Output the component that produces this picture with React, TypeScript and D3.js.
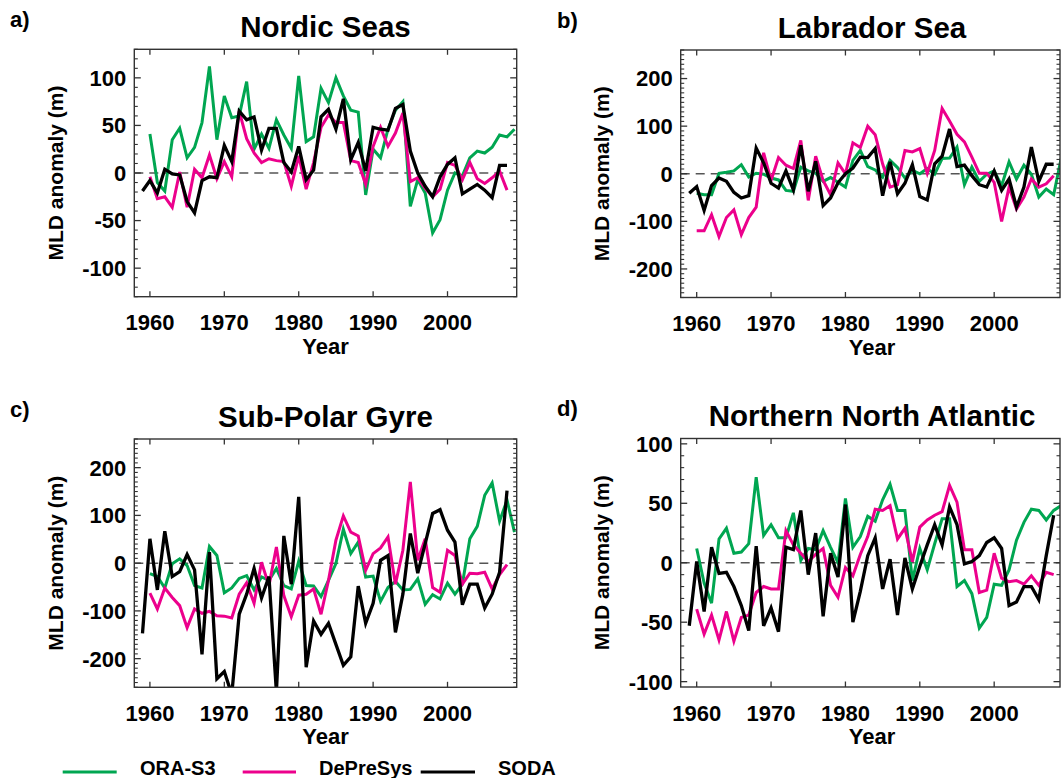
import { line, range, scaleLinear } from "d3";

// years on the x axis
const X_TICKS = [1960, 1970, 1980, 1990, 2000];
const SERIES_NAMES = ["ORA-S3", "DePreSys", "SODA"];
const START_YEARS = [1960, 1960, 1959];

// a) Nordic Seas
const nordicOra = [41, -10, -19, 35, 47, 16, 27, 53, 112, 35, 81, 58, 60, 96, 25, 41, 26, 56, 40, 26, 102, 33, 38, 89, 74, 100, 81, 66, 64, -23, 25, 16, 46, 66, 75, -35, -7, -21, -63, -49, -18, 0, -3, 16, 23, 21, 27, 40, 38, 46];
const nordicDePreSys = [-4, -27, -25, -36, 1, -36, 4, -5, 19, -6, 12, -4, 65, 36, 21, 11, 15, 13, 12, -14, 18, -17, 11, 48, 61, 53, 53, 13, 11, -12, 28, 48, 28, 42, 63, -9, -5, -16, -25, -17, 11, 8, -7, 11, -6, -11, -5, 2, -18];
const nordicSoda = [-19, -8, -21, 4, -1, -2, -30, -42, -8, -4, -5, 29, 12, 65, 56, 59, 24, 47, 47, 11, 1, 28, -7, 3, 59, 67, 46, 78, 14, 32, 2, 48, 46, 45, 68, 72, 23, 0, -14, -25, -4, 9, 16, -22, -17, -12, -18, -26, 8, 8];

// b) Labrador Sea
const labradorOra = [-41, -44, -44, 1, 3, 6, 19, -7, 1, -1, -9, -13, -35, -37, 14, 6, 1, -16, -8, -18, -28, 28, 49, 15, 8, -7, 28, 13, -9, 7, 0, 11, -1, 32, 33, 56, -23, 14, -16, -1, 6, -25, 25, -11, 18, -1, -49, -32, -44, 32];
const labradorDePreSys = [-120, -120, -86, -132, -92, -76, -128, -92, -70, 44, -14, 34, 18, 11, 70, -56, 37, -14, -44, 23, 0, 65, 55, 100, 82, 21, -28, -23, 49, 46, 53, 1, 49, 137, 111, 83, 67, 35, 1, 1, -18, -100, -28, -74, -49, -11, -28, -21, -4];
const labradorSoda = [-41, -27, -77, -25, -9, -16, -39, -51, -46, 54, 23, -20, -30, 6, -34, 60, -37, 26, -67, -51, -19, 0, 12, 35, 34, 53, -46, 25, -42, -20, 19, -48, -55, 21, 37, 94, 15, 18, -4, -23, -28, 6, -35, -11, -70, -28, 56, -16, 20, 20];

// c) Sub-Polar Gyre
const gyreOra = [-22, -28, -52, -1, 9, -5, -47, -52, 35, 16, -62, -52, -32, -26, -56, -29, -36, -11, -47, -54, 4, -47, -48, -70, -36, -1, 71, 20, 44, -29, -27, -80, -51, -38, -56, -55, -33, -86, -66, -75, -42, -65, -44, 51, 77, 142, 168, 88, 132, 65];
const gyreDePreSys = [-63, -96, -52, -72, -89, -135, -96, -105, -101, -110, -111, -115, -65, -41, -84, 2, -47, 34, -68, -112, -67, -65, -54, -107, -36, 48, 99, 65, 57, -15, 20, 32, 55, -44, 27, 170, 6, 51, -51, -61, 27, 16, -44, -21, -22, -19, -54, -24, -3];
const gyreSoda = [-147, 51, -56, 67, -28, -18, 18, -14, -191, 23, -242, -227, -275, -107, -65, -11, -73, -28, -270, 57, -44, 139, -218, -121, -149, -126, -170, -214, -196, -48, -126, -84, 6, 16, -145, -65, 62, -21, 41, 104, 112, 69, 44, -87, -44, -44, -94, -65, -19, 152];

// d) Northern North Atlantic
const nnaOra = [12, -17, -34, 20, 29, 8, 9, 16, 72, 23, 32, 21, 21, 42, 2, 12, 11, 27, 13, 0, 54, 13, 22, 39, 35, 53, 66, 44, 44, -15, 12, -6, 16, 37, 37, -20, -15, -26, -55, -46, -18, -19, -6, 19, 34, 45, 44, 36, 44, 48];
const nnaDePreSys = [-39, -60, -44, -65, -41, -66, -46, -44, -25, -20, -22, -22, 27, 15, 8, 1, 7, 12, -19, -29, -4, -11, 7, 22, 45, 44, 48, 20, 29, 1, 30, 36, 40, 43, 65, 51, 11, 11, -25, -23, 8, -13, -16, -15, -18, -11, -19, -8, -10];
const nnaSoda = [-53, 1, -41, 13, -9, -8, -20, -36, -57, 14, -53, -38, -58, 13, 11, 44, -10, 25, -45, 8, -12, 49, -50, -24, 6, 21, -22, 3, -44, 4, -22, -3, 15, 32, 15, 47, 32, -1, 1, 6, 17, 21, 12, -36, -33, -20, -20, -31, 6, 40];

const COLORS = ["#00a651", "#ec008c", "#000000"];
const FONT = "'Liberation Sans', Arial, Helvetica, sans-serif";
const AXIS = "#333";

const PANELS = [
  {
    letter: "a)", title: "Nordic Seas", series: [nordicOra, nordicDePreSys, nordicSoda],
    yDomain: [-130, 130], yTicks: [-100, -50, 0, 50, 100],
    box: { left: 134.3, right: 516.7, top: 49.3, bottom: 296.7 }, xDomain: [1957.9, 2009.3],
    letterX: 10, centerX: 325.5, labelX: 63,
  },
  {
    letter: "b)", title: "Labrador Sea", series: [labradorOra, labradorDePreSys, labradorSoda],
    yDomain: [-260, 260], yTicks: [-200, -100, 0, 100, 200],
    box: { left: 680.7, right: 1060, top: 50, bottom: 297.5 }, xDomain: [1957.85, 2008.85],
    letterX: 557, centerX: 872, labelX: 609,
  },
  {
    letter: "c)", title: "Sub-Polar Gyre", series: [gyreOra, gyreDePreSys, gyreSoda],
    yDomain: [-260, 260], yTicks: [-200, -100, 0, 100, 200],
    box: { left: 134.3, right: 516.7, top: 439, bottom: 687.3 }, xDomain: [1957.9, 2009.3],
    letterX: 10, centerX: 325.5, labelX: 63,
  },
  {
    letter: "d)", title: "Northern North Atlantic", series: [nnaOra, nnaDePreSys, nnaSoda],
    yDomain: [-104.5, 104.5], yTicks: [-100, -50, 0, 50, 100],
    box: { left: 680.7, right: 1060, top: 438.5, bottom: 687 }, xDomain: [1957.85, 2008.85],
    letterX: 557, centerX: 872, labelX: 609,
  },
];

function Panel({ p, idx }) {
  const { left, right, top, bottom } = p.box;
  const x = scaleLinear().domain(p.xDomain).range([left, right]);
  const y = scaleLinear().domain(p.yDomain).range([bottom, top]);
  const minor = range(Math.ceil(p.yDomain[0] / 10) * 10, p.yDomain[1] + 0.01, 10).filter(
    (v) => !p.yTicks.includes(v)
  );
  const clipId = `clip-${idx}`;

  return (
    <g>
      <defs>
        <clipPath id={clipId}>
          <rect x={left} y={top} width={right - left} height={bottom - top} />
        </clipPath>
      </defs>

      <text x={p.letterX} y={top - 22.5} fontSize={22} fontWeight="bold" fontFamily={FONT}>
        {p.letter}
      </text>
      <text x={p.centerX} y={top - 12.5} fontSize={29.5} fontWeight="bold" fontFamily={FONT} textAnchor="middle">
        {p.title}
      </text>

      <line
        x1={left} x2={right} y1={y(0)} y2={y(0)}
        stroke="#555" strokeWidth={1.5} strokeDasharray="9 6"
      />

      <g clipPath={`url(#${clipId})`}>
        {p.series.map((values, s) => {
          const gen = line<number>()
            .x((_, i) => x(START_YEARS[s] + i))
            .y((d) => y(d));
          return (
            <path
              key={s}
              d={gen(values) ?? ""}
              fill="none"
              stroke={COLORS[s]}
              strokeWidth={s === 2 ? 3.3 : 3}
              strokeLinejoin="miter"
            />
          );
        })}
      </g>

      <rect
        x={left} y={top} width={right - left} height={bottom - top}
        fill="none" stroke={AXIS} strokeWidth={1.4}
      />

      {X_TICKS.map((t) => (
        <g key={t}>
          <line x1={x(t)} x2={x(t)} y1={bottom} y2={bottom - 5.5} stroke={AXIS} strokeWidth={1.3} />
          <line x1={x(t)} x2={x(t)} y1={top} y2={top + 5.5} stroke={AXIS} strokeWidth={1.3} />
          <text
            x={x(t)} y={bottom + 33.5} fontSize={22} fontWeight="bold"
            fontFamily={FONT} textAnchor="middle"
          >
            {t}
          </text>
        </g>
      ))}

      {p.yTicks.map((t) => (
        <g key={t}>
          <line x1={left} x2={left + 6.5} y1={y(t)} y2={y(t)} stroke={AXIS} strokeWidth={1.3} />
          <line x1={right} x2={right - 6.5} y1={y(t)} y2={y(t)} stroke={AXIS} strokeWidth={1.3} />
          <text
            x={left - 8} y={y(t)} dy="0.36em" fontSize={22} fontWeight="bold"
            fontFamily={FONT} textAnchor="end"
          >
            {t}
          </text>
        </g>
      ))}
      {minor.map((t) => (
        <g key={`m${t}`}>
          <line x1={left} x2={left + 3.5} y1={y(t)} y2={y(t)} stroke={AXIS} strokeWidth={1.1} />
          <line x1={right} x2={right - 3.5} y1={y(t)} y2={y(t)} stroke={AXIS} strokeWidth={1.1} />
        </g>
      ))}

      <text
        x={p.centerX} y={bottom + 57} fontSize={22} fontWeight="bold"
        fontFamily={FONT} textAnchor="middle"
      >
        Year
      </text>
      <text
        transform={`translate(${p.labelX},${(top + bottom) / 2}) rotate(-90)`}
        fontSize={21} fontWeight="bold" fontFamily={FONT} textAnchor="middle"
      >
        MLD anomaly (m)
      </text>
    </g>
  );
}

const LEGEND_LAYOUT = [
  { x1: 62.7, x2: 116.7, tx: 140 },
  { x1: 242.7, x2: 296, tx: 319 },
  { x1: 420.7, x2: 475, tx: 498 },
];

export default function App() {
  return (
    <div style={{ position: "absolute", left: 0, top: 0 }}>
      <svg width={1061} height={778} viewBox="0 0 1061 778" style={{ display: "block", background: "#fff" }}>
        {PANELS.map((p, i) => (
          <Panel key={p.letter} p={p} idx={i} />
        ))}
        {SERIES_NAMES.map((name, i) => (
          <g key={name}>
            <line
              x1={LEGEND_LAYOUT[i].x1} x2={LEGEND_LAYOUT[i].x2} y1={772} y2={772}
              stroke={COLORS[i]} strokeWidth={3}
            />
            <text x={LEGEND_LAYOUT[i].tx} y={775} fontSize={20} fontWeight="bold" fontFamily={FONT}>
              {name}
            </text>
          </g>
        ))}
      </svg>
    </div>
  );
}
